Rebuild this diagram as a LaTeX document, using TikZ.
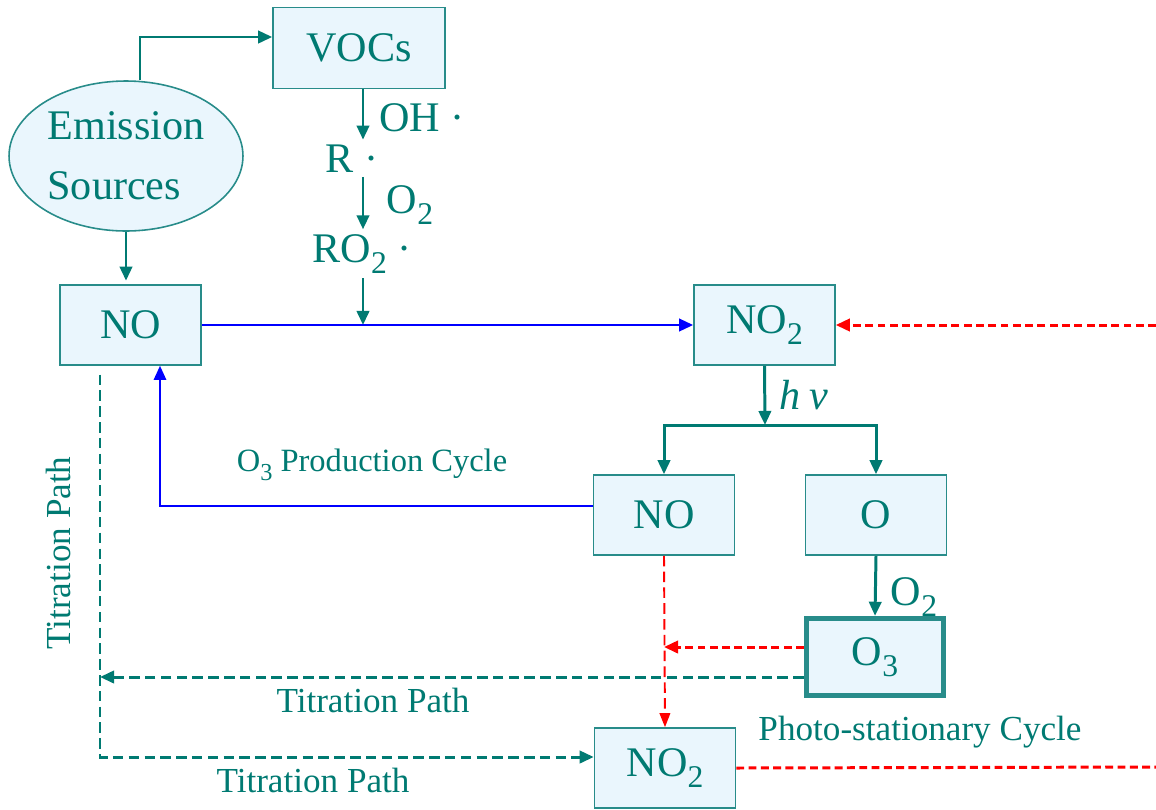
\documentclass[tikz,border=0pt]{standalone}
\usepackage{fontspec}
\setmainfont{Liberation Serif}
\usepackage{tikz}
\usetikzlibrary{arrows.meta,shapes.geometric}
\definecolor{figteal}{RGB}{0,122,114}
\definecolor{figedge}{RGB}{40,140,138}
\definecolor{figbox}{RGB}{234,246,253}
\definecolor{figblue}{RGB}{0,0,255}
\definecolor{figred}{RGB}{255,0,0}
\newcommand{\low}[1]{\raisebox{-0.6ex}{\scalebox{0.75}{#1}}}
\tikzset{
  box/.style   ={draw=figedge, fill=figbox, line width=0.9pt, minimum width=2.82cm,
                 minimum height=1.6cm, inner sep=0pt, text=figteal, font=\fontsize{24}{28}\selectfont},
  chem/.style  ={text=figteal, inner sep=2.5pt, font=\fontsize{24}{28}\selectfont},
  note/.style  ={text=figteal, inner sep=1pt, font=\fontsize{20}{24}\selectfont},
  arr/.style   ={draw=figteal, line width=1.7pt, -{Triangle[length=8pt,width=7pt]}},
  barr/.style  ={draw=figblue, line width=1.6pt, -{Triangle[length=8pt,width=7pt]}},
  rdash/.style ={draw=figred, line width=1.7pt, dash pattern=on 4.5pt off 2.5pt},
  tdash/.style ={draw=figteal, line width=1.7pt, dash pattern=on 6pt off 3pt},
}
\begin{document}
\begin{tikzpicture}[x=0.02cm,y=-0.02cm]
  \useasboundingbox (0,0) rectangle (1156,809);
  % nodes
  \node[ellipse, draw=figedge, fill=figbox, line width=0.9pt, minimum width=4.68cm,
        minimum height=3cm, inner sep=0pt, text=figteal, align=left,
        font=\fontsize{24}{34}\selectfont] (emis) at (126,156) {Emission\\Sources};
  \node[box, minimum width=3.44cm, minimum height=1.62cm] (vocs) at (359,48) {VOCs};
  \node[box] (no1) at (130.5,325) {NO};
  \node[box] (no2a) at (764.5,325) {NO\low{2}};
  \node[box] (nomid) at (664,515) {NO};
  \node[box] (oatom) at (876,515) {O};
  \node[box, line width=2.8pt, minimum width=2.75cm, minimum height=1.55cm] (othree) at (875,657) {O\low{3}};
  \node[box] (no2b) at (665,768) {NO\low{2}};
  \node[chem, anchor=base] (oh) at (422,131) {OH ·};
  \node[chem, anchor=base] (rad) at (352,172) {R ·};
  \node[chem, anchor=base] (otwo) at (410,213) {O\low{2}};
  \node[chem, anchor=base] (ro2) at (362,262) {RO\low{2} ·};
  \node[chem] (hnu) at (804,395) {\textit{h}\hspace{5pt}\textit{ν}};
  \node[chem, anchor=base] (otwob) at (914,605) {O\low{2}};
  \node[note, font=\fontsize{18.5}{22}\selectfont] (prod) at (372,465) {O\low{3} Production Cycle};
  \node[note, rotate=90] (tpath1) at (58,553) {Titration Path};
  \node[note] (tpath2) at (373,700) {Titration Path};
  \node[note] (tpath3) at (313,780) {Titration Path};
  \node[note] (photo) at (920,732) {Photo-stationary Cycle};
  \coordinate (feed) at (140,37);
  \coordinate (chain) at (363,0);
  \coordinate (split) at (765,425);
  \coordinate (ret) at (160,506);
  \coordinate (hit) at (664,647);
  \coordinate (tleft) at (100,677);
  \coordinate (tdown) at (100,757);
  \coordinate (redin) at (1156,325);
  \coordinate (redout) at (1156,767);
  % connectors
  \draw[arr] (emis.north -| feed) -- (feed) -- (feed -| vocs.west);
  \draw[arr, shorten >=2pt] (emis.south) -- (emis.south |- no1.north);
  \draw[arr] (vocs.south -| chain) -- (chain |- rad.north);
  \draw[arr] (chain |- rad.south) -- (chain |- ro2.north);
  \draw[arr] (chain |- ro2.south) -- (chain |- no1.east);
  \draw[barr] (no1.east) -- (no2a.west);
  \draw[rdash, -{Triangle[length=8pt,width=7pt]}] (redin) -- (no2a.east);
  \draw[arr] (no2a.south) -- (split);
  \draw[arr] (split) -| (nomid.north);
  \draw[arr] (split) -| (oatom.north);
  \draw[barr, line width=1.1pt] (ret -| nomid.west) -- (ret) -- (ret |- no1.south);
  \draw[arr] (oatom.south) -- (othree.north);
  \draw[rdash, -{Triangle[length=8pt,width=7pt]}] (hit -| othree.west) -- (hit);
  \draw[rdash, line width=1.1pt, dash pattern=on 6pt off 3pt, -{Triangle[length=8pt,width=6pt]}]
    (nomid.south) -- (no2b.north);
  \draw[tdash, -{Triangle[length=8pt,width=7pt]}] (tleft -| othree.west) -- (tleft);
  \draw[tdash, shorten <=5pt, -{Triangle[length=8pt,width=7pt]}]
    (no1.south -| tdown) -- (tdown) -- (tdown -| no2b.west);
  \draw[rdash] (no2b.east) -- (redout);
\end{tikzpicture}
\end{document}
